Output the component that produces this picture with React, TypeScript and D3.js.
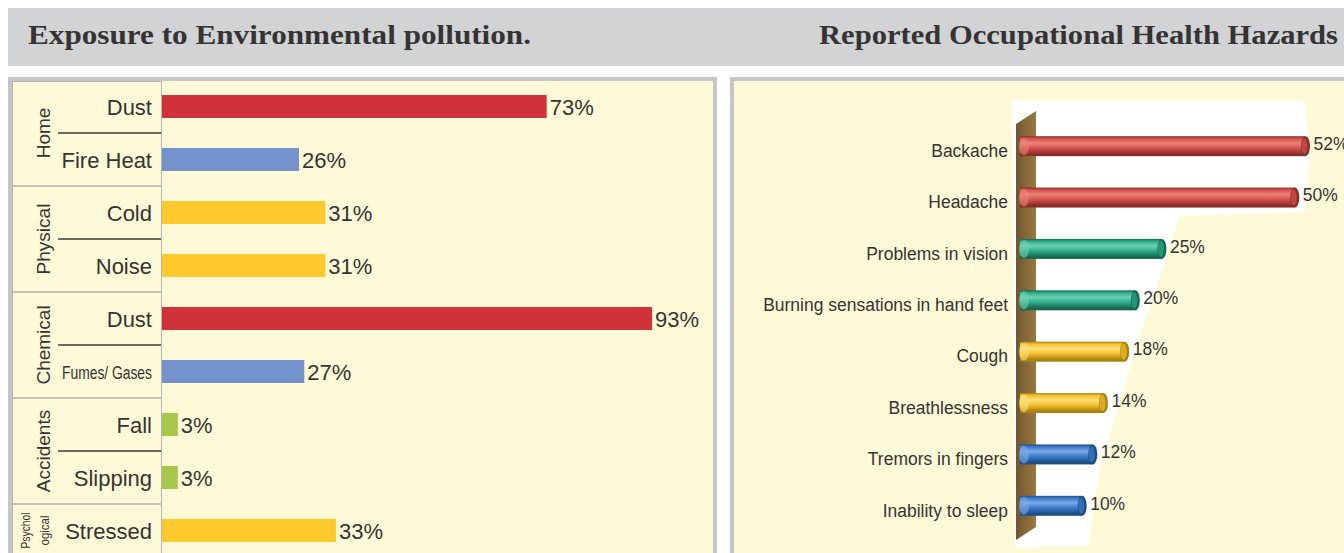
import React from "react";
import * as d3 from "d3";

// ---- left chart data
const groups = ["Home", "Physical", "Chemical", "Accidents"];
const exposures = ["Dust", "Fire Heat", "Cold", "Noise", "Dust", "Fumes/ Gases", "Fall", "Slipping", "Stressed"];
const exposureValues = [73, 26, 31, 31, 93, 27, 3, 3, 33];
const exposureColors = ["#d0323a", "#7492cb", "#fec92c", "#fec92c", "#d0323a", "#7492cb", "#a5c84a", "#a5c84a", "#fec92c"];

// ---- right chart data
const hazards = [
  "Backache",
  "Headache",
  "Problems in vision",
  "Burning sensations in hand feet",
  "Cough",
  "Breathlessness",
  "Tremors in fingers",
  "Inability to sleep",
];
const hazardValues = [52, 50, 25, 20, 18, 14, 12, 10];
const hazardColors = ["red", "red", "teal", "teal", "yellow", "yellow", "blue", "blue"];

const W = 1344;
const H = 553;
const cream = "#fef9d7";
const frame = "#c5c6c8";
const ink = "#363334";
const serif = "'Liberation Serif', 'DejaVu Serif', serif";

// cylinder shades: [dark, main, light]
const shades: Record<string, string[]> = {
  red: ["#8a2c2a", "#d4514b", "#eb8279"],
  teal: ["#17684f", "#2cab89", "#6fd1b3"],
  yellow: ["#a9820f", "#f3c12d", "#fbe07a"],
  blue: ["#1f4d86", "#3b7bca", "#79aae6"],
};

export default function App() {
  // left chart scales
  const yL = d3.scaleBand<number>().domain(d3.range(exposures.length)).range([80, 557]);
  const xL = d3.scaleLinear().domain([0, 100]).range([162, 689]);
  const barH = 23;

  // right chart scales
  const yR = d3.scaleBand<string>().domain(hazards).range([120.5, 531.5]);
  const xR = d3.scaleLinear().domain([0, 60]).range([1029, 1348]);
  const cylH = 20;
  const squeeze = 0.92; // labels on the right are set in a condensed face

  const groupMid = (g: number) => (yL(g * 2)! + yL(g * 2 + 1)! + yL.bandwidth()) / 2;

  return (
    <svg width={W} height={H} style={{ position: "absolute", left: 0, top: 0 }}
      fontFamily="'Liberation Sans', Arial, sans-serif">
      <defs>
        {Object.keys(shades).map((k) => (
          <linearGradient key={k} id={"cyl-" + k} x1="0" y1="0" x2="0" y2="1">
            <stop offset="0" stopColor={shades[k][0]} />
            <stop offset="0.12" stopColor={shades[k][1]} />
            <stop offset="0.35" stopColor={shades[k][2]} />
            <stop offset="0.6" stopColor={shades[k][1]} />
            <stop offset="0.9" stopColor={shades[k][0]} />
            <stop offset="1" stopColor={shades[k][0]} />
          </linearGradient>
        ))}
        <linearGradient id="wall" x1="0" y1="0" x2="1" y2="0">
          <stop offset="0" stopColor="#6e5630" />
          <stop offset="1" stopColor="#9a7a40" />
        </linearGradient>
      </defs>

      {/* header band */}
      <rect x={8} y={8} width={W - 8} height={58} fill="#d1d3d5" />
      <text x={28} y={44} fontFamily={serif} fontWeight="bold"
        fontSize={28} fill={ink} textLength={503} lengthAdjust="spacingAndGlyphs">
        Exposure to Environmental pollution.
      </text>
      <text x={819} y={44} fontFamily={serif} fontWeight="bold"
        fontSize={28} fill={ink} textLength={519} lengthAdjust="spacingAndGlyphs">
        Reported Occupational Health Hazards
      </text>

      {/* left panel */}
      <rect x={10} y={79} width={705} height={500} fill={cream} stroke={frame} strokeWidth={4} />
      <rect x={12.5} y={81.5} width={149} height={500} fill="none" stroke="#b4b4b4" strokeWidth={1} />
      {groups.map((g, i) => (
        <line key={"gs" + i} x1={12} x2={161} y1={yL(i * 2 + 2)!} y2={yL(i * 2 + 2)!}
          stroke="#b0b0b0" strokeWidth={1.5} />
      ))}
      {groups.map((g, i) => (
        <line key={"ws" + i} x1={58} x2={161} y1={yL(i * 2 + 1)!} y2={yL(i * 2 + 1)!}
          stroke="#3a3a3a" strokeWidth={1.5} />
      ))}
      {groups.map((g, i) => (
        <text key={"g" + i} transform={`translate(43,${groupMid(i)}) rotate(-90)`} textAnchor="middle"
          dominantBaseline="central" fontSize={19} fill={ink}>
          {g}
        </text>
      ))}
      <text transform={`translate(26,${yL(8)! + yL.bandwidth() / 2}) rotate(-90)`} textAnchor="middle"
        dominantBaseline="central" fontSize={12} fill={ink}
        textLength={36} lengthAdjust="spacingAndGlyphs">
        Psychol
      </text>
      <text transform={`translate(45,${yL(8)! + yL.bandwidth() / 2}) rotate(-90)`} textAnchor="middle"
        dominantBaseline="central" fontSize={12} fill={ink}
        textLength={30} lengthAdjust="spacingAndGlyphs">
        ogical
      </text>

      {exposures.map((c, i) => {
        const cy = yL(i)! + yL.bandwidth() / 2;
        const narrow = c.length > 10;
        return (
          <g key={"e" + i}>
            <text x={152} y={cy + 1} textAnchor="end" dominantBaseline="central" fontSize={narrow ? 19 : 22}
              fill={ink} textLength={narrow ? 90 : undefined} lengthAdjust="spacingAndGlyphs">
              {c}
            </text>
            <rect x={xL(0)} y={cy - barH / 2} width={xL(exposureValues[i]) - xL(0)} height={barH}
              fill={exposureColors[i]} />
            <text x={xL(exposureValues[i]) + 3} y={cy + 1} dominantBaseline="central" fontSize={22} fill={ink}>
              {exposureValues[i]}%
            </text>
          </g>
        );
      })}

      {/* right panel */}
      <rect x={732} y={79} width={W} height={500} fill={cream} stroke={frame} strokeWidth={4} />
      <polygon
        points="1012,100 1304,100 1310,150 1305,212 1180,216 1165,262 1142,330 1120,400 1100,470 1088,545 1015,548"
        fill="#ffffff" />
      <polygon points="1016,124 1036,111 1036,527 1016,540" fill="url(#wall)" />

      {hazards.map((c, i) => {
        const cy = yR(c)! + yR.bandwidth() / 2;
        const x0 = xR(0) - 9;
        const x1 = xR(hazardValues[i]);
        const k = hazardColors[i];
        return (
          <g key={"h" + i}>
            <g transform={`translate(1008,${cy + 4}) scale(${squeeze},1)`}>
              <text textAnchor="end" dominantBaseline="central" fontSize={19} fill={ink}>
                {c}
              </text>
            </g>
            <rect x={x0} y={cy - cylH / 2} width={x1 - x0} height={cylH} fill={`url(#cyl-${k})`} />
            <ellipse cx={x0 + 4} cy={cy} rx={5} ry={cylH / 2 - 1} fill={shades[k][2]} opacity={0.6} />
            <ellipse cx={x1} cy={cy} rx={4.5} ry={cylH / 2} fill={shades[k][0]} />
            <ellipse cx={x1 - 1} cy={cy} rx={3} ry={cylH / 2 - 2} fill={shades[k][1]} opacity={0.7} />
            <g transform={`translate(${x1 + 8},${cy - 3}) scale(${squeeze},1)`}>
              <text dominantBaseline="central" fontSize={19} fill={ink}>
                {hazardValues[i]}%
              </text>
            </g>
          </g>
        );
      })}
    </svg>
  );
}
